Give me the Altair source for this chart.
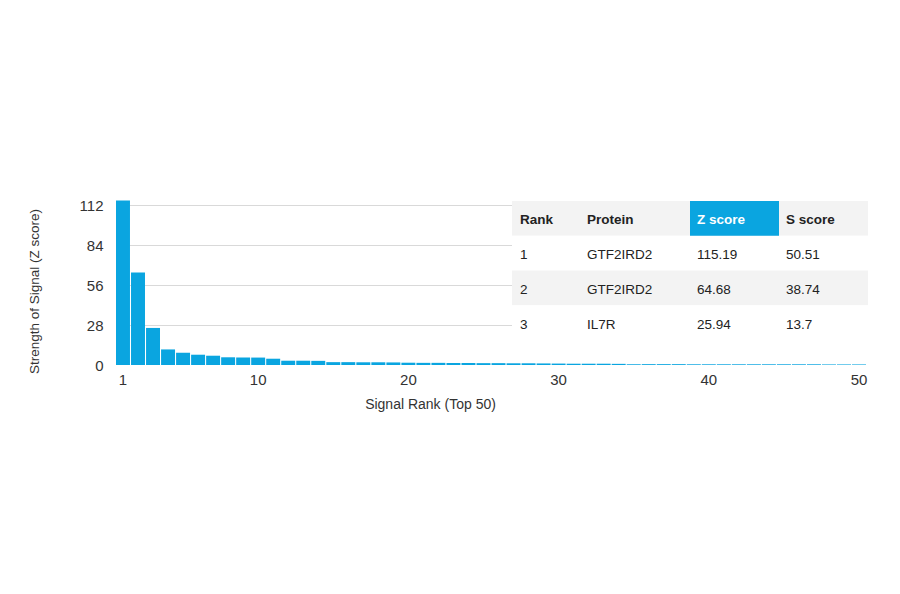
import altair as alt
import pandas as pd

# ---- data ----
ranks = list(range(1, 51))
z_values = [115.19, 64.68, 25.94, 10.9, 8.6, 7.2, 6.5, 5.4, 5.3, 5.2,
            4.4, 3.0, 3.0, 2.9, 2.0, 2.0, 1.9, 1.9, 1.8, 1.6,
            1.5, 1.5, 1.4, 1.4, 1.3, 1.3, 1.2, 1.2, 1.1, 1.0,
            0.9, 0.9, 0.9, 0.8, 0.6, 0.6, 0.6, 0.6, 0.5, 0.5,
            0.5, 0.5, 0.5, 0.5, 0.5, 0.5, 0.5, 0.4, 0.4, 0.4]
x_tick_values = [1, 10, 20, 30, 40, 50]
y_tick_values = [0, 28, 56, 84, 112]

table_cols = ["Rank", "Protein", "Z score", "S score"]
table_ranks = ["1", "2", "3"]
table_proteins = ["GTF2IRD2", "GTF2IRD2", "IL7R"]
table_z = ["115.19", "64.68", "25.94"]
table_s = ["50.51", "38.74", "13.7"]

bars_df = pd.DataFrame({"rank": ranks, "z": z_values})
row_keys = ["header"] + table_ranks
recs = [{"row": "header", "col": c, "text": c} for c in table_cols]
for r, p, z, s in zip(table_ranks, table_proteins, table_z, table_s):
    for c, v in zip(table_cols, [r, p, z, s]):
        recs.append({"row": r, "col": c, "text": v})
table_df = pd.DataFrame(recs)
bg_df = pd.DataFrame({"row": row_keys})

# ---- style ----
FONT = "Liberation Sans"
BLUE = "#0aa5e0"
TXT = "#333333"

bars = alt.Chart(bars_df).mark_bar(color=BLUE).encode(
    x=alt.X("rank:O",
            scale=alt.Scale(paddingInner=0.07, paddingOuter=0),
            axis=alt.Axis(values=x_tick_values, labelAngle=0, ticks=False, domain=False,
                          labelFont=FONT, labelFontSize=15, labelColor=TXT, labelPadding=7,
                          title="Signal Rank (Top 50)", titleFont=FONT, titleFontSize=14,
                          titleFontWeight="normal", titleColor=TXT, titleX=314, titlePadding=10)),
    y=alt.Y("z:Q",
            scale=alt.Scale(domain=[0, 112], nice=False, zero=True),
            axis=alt.Axis(values=y_tick_values, ticks=False, domain=False, grid=True,
                          gridColor=alt.condition("datum.value == 0", alt.value("transparent"), alt.value("#d9d9d9")),
                          labelFont=FONT, labelFontSize=15, labelColor=TXT, labelPadding=13,
                          title="Strength of Signal (Z score)", titleFont=FONT, titleFontSize=13.5,
                          titleFontWeight="normal", titleColor=TXT, titleX=-75, titleY=86)),
)

row_scale = alt.Scale(domain=row_keys, range=[-4, 135], paddingInner=0, paddingOuter=0)
row_y = alt.Y("row:N", scale=row_scale, axis=None)

bg = alt.Chart(bg_df).mark_rect().encode(
    y=row_y,
    x=alt.value(396), x2=alt.value(752),
    color=alt.condition("datum.row == 'header' || datum.row == '2'",
                        alt.value("#f3f3f3"), alt.value("white")),
)

zcell = alt.Chart(bg_df).transform_filter("datum.row == 'header'").mark_rect(color=BLUE).encode(
    y=row_y, x=alt.value(574), x2=alt.value(663),
)

col_x = dict(zip(table_cols, [404, 471, 581, 670]))
text_layers = []
for c in table_cols:
    head = alt.Chart(table_df).transform_filter(
        f"datum.row == 'header' && datum.col == '{c}'"
    ).mark_text(align="left", font=FONT, fontSize=13.5, fontWeight="bold", dy=2,
                color="white" if c == "Z score" else "#222222").encode(
        x=alt.value(col_x[c]), y=row_y, text="text:N")
    body = alt.Chart(table_df).transform_filter(
        f"datum.row != 'header' && datum.col == '{c}'"
    ).mark_text(align="left", font=FONT, fontSize=13.5, dy=2, color="#222222").encode(
        x=alt.value(col_x[c]), y=row_y, text="text:N")
    text_layers += [head, body]

chart = alt.layer(bars, bg, zcell, *text_layers).resolve_scale(
    x="independent", y="independent"
).properties(
    width=750, height=160,
    autosize=alt.AutoSizeParams(type="none"),
    padding={"left": 108, "top": 197, "right": 26, "bottom": 221},
).configure_view(stroke=None)

chart.save("out.html", embed_options={"renderer": "svg", "actions": False})
